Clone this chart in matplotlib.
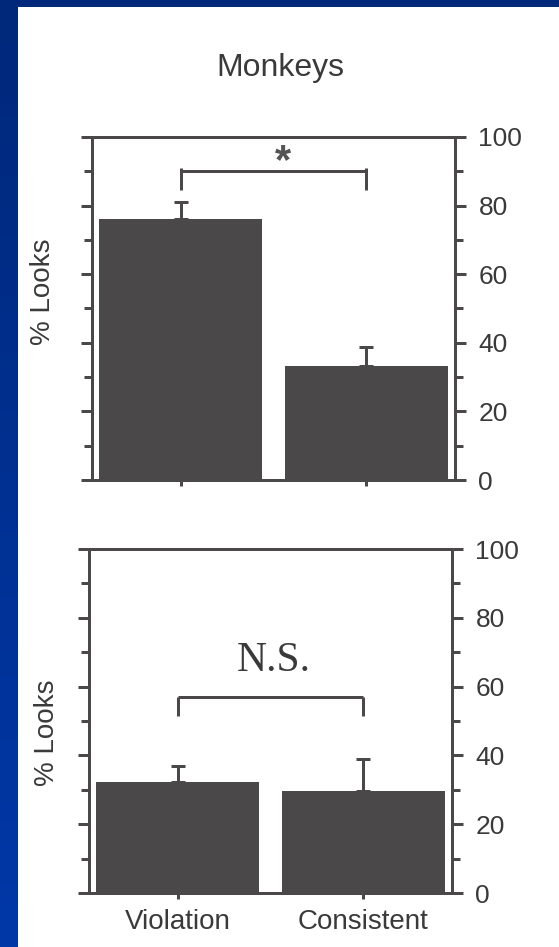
import matplotlib
matplotlib.use("Agg")
import matplotlib.pyplot as plt
from matplotlib.patches import Rectangle
import numpy as np

categories = ["Violation", "Consistent"]
monkey_means = [76.0, 33.2]
monkey_err = [5.0, 5.6]
second_means = [32.3, 29.6]
second_err = [4.6, 9.4]

W, H = 559, 947
GRAY = "#4a4849"
TEXT = "#3a3a3a"
LW = 2.16

plt.rcParams["font.family"] = ["Liberation Sans", "DejaVu Sans"]


def draw_panel(ax, means, errs, show_labels):
  x = np.arange(len(means))
  ax.bar(x, means, width=0.88, color=GRAY, zorder=2)
  ax.errorbar(x, means, yerr=[[0] * len(errs), errs], fmt="none",
              ecolor=GRAY, elinewidth=LW, capsize=4.7, capthick=LW, zorder=3)
  ax.set_xlim(-0.48, 1.48)
  ax.set_ylim(0, 100)
  for s in ax.spines.values():
    s.set_color(GRAY)
    s.set_linewidth(LW)
  ax.set_yticks([0, 20, 40, 60, 80, 100])
  ax.set_yticks([10, 30, 50, 70, 90], minor=True)
  ax.tick_params(axis="y", which="both", direction="out", left=True, right=True,
                 labelleft=False, labelright=True, color=GRAY, width=LW,
                 labelsize=19, labelcolor=TEXT, pad=9)
  ax.tick_params(axis="y", which="major", length=7.9)
  ax.tick_params(axis="y", which="minor", length=5.5)
  ax.set_xticks(x)
  ax.tick_params(axis="x", direction="out", length=4.3, width=LW, color=GRAY,
                 labelsize=20, labelcolor=TEXT, pad=7)
  if show_labels:
    ax.set_xticklabels(categories)
  else:
    ax.set_xticklabels([])


def bracket(ax, y, y_low, y_high=None):
  if y_high is None:
    y_high = y
  ax.plot([0, 1], [y, y], color=GRAY, lw=LW, solid_capstyle="butt")
  ax.plot([0, 0], [y_high, y_low], color=GRAY, lw=LW, solid_capstyle="butt")
  ax.plot([1, 1], [y_high, y_low], color=GRAY, lw=LW, solid_capstyle="butt")


fig = plt.figure(figsize=(W / 100, H / 100), dpi=100)

# slide background: blue frame with a white panel
bg = fig.add_axes([0, 0, 1, 1], zorder=-10)
grad = np.linspace(0, 1, 256).reshape(-1, 1)
top_c = np.array([0, 40, 122]) / 255
bot_c = np.array([0, 56, 168]) / 255
img = top_c + (bot_c - top_c) * grad[:, :, None] * np.ones((1, 2, 1))
bg.imshow(img, extent=[0, 1, 0, 1], aspect="auto", origin="upper")
bg.add_patch(Rectangle((18 / W, 0), 1, 1 - 7 / H, color="white", lw=0))
bg.set_xlim(0, 1)
bg.set_ylim(0, 1)
bg.axis("off")

ax1 = fig.add_axes([92 / W, 1 - 480 / H, 363 / W, 343 / H])
draw_panel(ax1, monkey_means, monkey_err, False)
bracket(ax1, 90, 84.5, 91)
ax1.text(0.55, 92.8, "*", ha="center", va="center", fontsize=30,
         fontweight="bold", color="#555555")
ax1.text(-0.135, 0.548, "% Looks", transform=ax1.transAxes, rotation=90,
         ha="center", va="center", fontsize=20, color=TEXT)

ax2 = fig.add_axes([89 / W, 1 - 893 / H, 363 / W, 344 / H])
draw_panel(ax2, second_means, second_err, True)
bracket(ax2, 57, 51.5)
ax2.text(0.52, 67.5, "N.S.", ha="center", va="center", fontsize=30,
         color=TEXT, family=["Liberation Serif", "DejaVu Serif"])
ax2.text(-0.115, 0.465, "% Looks", transform=ax2.transAxes, rotation=90,
         ha="center", va="center", fontsize=20, color=TEXT)

fig.text(280 / W, 1 - 68 / H, "Monkeys", ha="center", va="center",
         fontsize=23, color=TEXT)

fig.savefig("out.png", dpi=100)
